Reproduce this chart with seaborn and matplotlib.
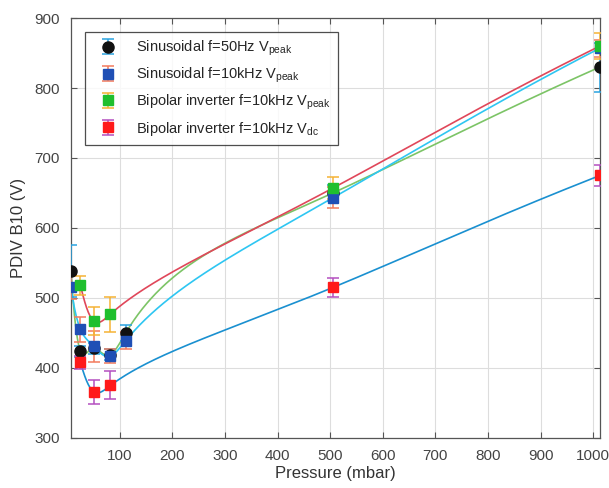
import numpy as np
import pandas as pd
import matplotlib
matplotlib.use("Agg")
import matplotlib.pyplot as plt
import seaborn as sns

# data (pressure in mbar, PDIV in V)
p_sin50 = [7, 25, 50, 82, 111, 505, 1013]
v_sin50 = [539, 424, 428, 419, 450, 650, 830]
e_sin50 = [37, 8, 8, 8, 11, 12, 35]

p_sin10k = [7, 25, 50, 82, 111, 505, 1013]
v_sin10k = [516, 455, 431, 417, 439, 643, 857]
e_sin10k = [17, 18, 22, 10, 12, 15, 12]

p_bip_peak = [25, 50, 82, 505, 1013]
v_bip_peak = [518, 467, 477, 657, 860]
e_bip_peak = [14, 20, 25, 16, 19]

p_bip_dc = [25, 50, 82, 505, 1013]
v_bip_dc = [408, 366, 375, 515, 675]
e_bip_dc = [9, 17, 20, 13, 15]

labels = [
    r"Sinusoidal f=50Hz V$_{\mathrm{peak}}$",
    r"Sinusoidal f=10kHz V$_{\mathrm{peak}}$",
    r"Bipolar inverter f=10kHz V$_{\mathrm{peak}}$",
    r"Bipolar inverter f=10kHz V$_{\mathrm{dc}}$",
]


def natural_spline(x, y, xs):
    x = np.asarray(x, float)
    y = np.asarray(y, float)
    n = len(x)
    h = np.diff(x)
    A = np.zeros((n, n))
    b = np.zeros(n)
    A[0, 0] = A[-1, -1] = 1
    for i in range(1, n - 1):
        A[i, i - 1] = h[i - 1]
        A[i, i] = 2 * (h[i - 1] + h[i])
        A[i, i + 1] = h[i]
        b[i] = 3 * ((y[i + 1] - y[i]) / h[i] - (y[i] - y[i - 1]) / h[i - 1])
    c = np.linalg.solve(A, b)
    bb = (y[1:] - y[:-1]) / h - h * (2 * c[:-1] + c[1:]) / 3
    d = (c[1:] - c[:-1]) / (3 * h)
    idx = np.clip(np.searchsorted(x, xs) - 1, 0, n - 2)
    t = xs - x[idx]
    return y[idx] + bb[idx] * t + c[idx] * t ** 2 + d[idx] * t ** 3


sns.set_theme(style="whitegrid")
plt.rcParams["font.family"] = ["Liberation Sans", "DejaVu Sans"]
plt.rcParams["mathtext.fontset"] = "custom"
plt.rcParams["mathtext.rm"] = "Liberation Sans"

fig = plt.figure(figsize=(6.09, 4.88), dpi=100)
ax = fig.add_axes([0.1166, 0.1025, 0.8686, 0.8606])

series = [
    (p_sin50, v_sin50, e_sin50, "o", "#111111", "#2aa3e0", "#7cc466", 8),
    (p_sin10k, v_sin10k, e_sin10k, "s", "#1f4fb5", "#f27b5c", "#2ec6f2", 6.5),
    (p_bip_peak, v_bip_peak, e_bip_peak, "s", "#1fbf2e", "#f5b335", "#e0475a", 6.5),
    (p_bip_dc, v_bip_dc, e_bip_dc, "s", "#ff1a1a", "#b44fc0", "#1a90d0", 6.5),
]

# smooth fitted curves (spline in sqrt(pressure))
for p, v, e, m, mc, ec, lc, ms in series:
    xs = np.linspace(p[0], p[-1], 600)
    vs = natural_spline(np.sqrt(p), v, np.sqrt(xs))
    curve = pd.DataFrame({"p": xs, "v": vs})
    sns.lineplot(data=curve, x="p", y="v", color=lc, lw=1.2, ax=ax, zorder=2)

# measured points with error bars
for (p, v, e, m, mc, ec, lc, ms), lab in zip(series, labels):
    ax.errorbar(p, v, yerr=e, fmt=m, color=mc, mfc=mc, mec=mc, ms=ms,
                ecolor=ec, elinewidth=1.1, capsize=4, capthick=1.1,
                label=lab, zorder=3)

ax.set_xlim(7, 1013)
ax.set_ylim(300, 900)
ax.set_xticks(range(100, 1001, 100))
ax.set_yticks(range(300, 901, 100))
ax.set_xlabel("Pressure (mbar)", fontsize=12, color="#333333", labelpad=2)
ax.set_ylabel("PDIV B10 (V)", fontsize=12, color="#333333", labelpad=6)
ax.tick_params(direction="in", length=4, width=0.8, color="#555555",
               labelsize=11, labelcolor="#444444", top=True, right=True,
               bottom=True, left=True, pad=8)
ax.grid(True, color="#dddddd", lw=0.8)
for s in ax.spines.values():
    s.set_color("#555555")
    s.set_linewidth(0.9)

leg = ax.legend(loc="upper left", bbox_to_anchor=(0.012, 0.985), fontsize=10.5,
                frameon=True, fancybox=False, edgecolor="#222222",
                handlelength=2.2, labelspacing=0.5, borderpad=0.5)
leg.get_frame().set_linewidth(0.9)

fig.savefig("out.png", dpi=100)
